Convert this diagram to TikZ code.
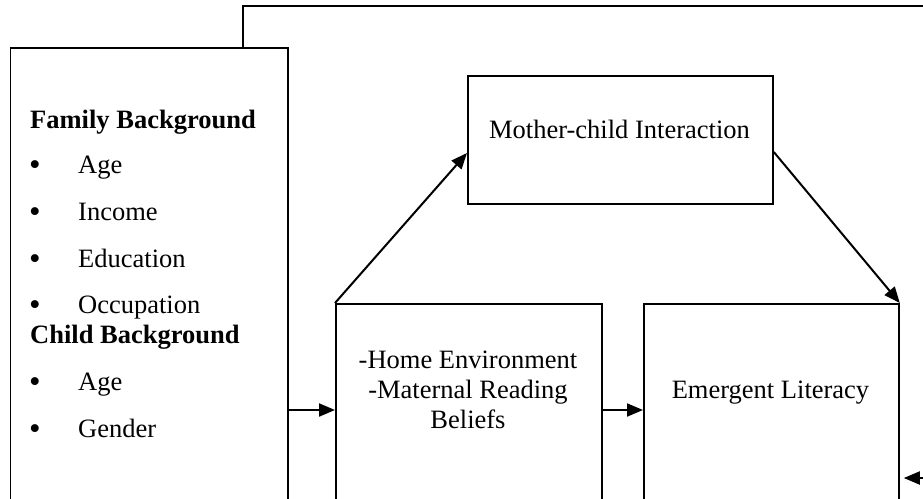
\documentclass[tikz,border=0pt]{standalone}
\usepackage{fontspec}
\setmainfont{Liberation Serif}
\usetikzlibrary{arrows.meta}
\begin{document}
\begin{tikzpicture}[x=1pt,y=-1pt,
  box/.style={draw,line width=1.8pt,fill=white,rectangle,inner sep=0pt,anchor=north west},
  arr/.style={line width=2pt,-{Triangle[length=16pt,width=13pt]}},
  txt/.style={inner sep=0pt,font=\fontsize{26.5}{30}\selectfont},
  item/.style={txt,anchor=base west},
  bul/.style={inner sep=0pt,anchor=base,font=\fontsize{33}{33}\selectfont,yshift=-2pt},
]
\useasboundingbox (0,0) rectangle (923,498);
\clip (0,0) rectangle (923,498);
% boxes
\node[box,minimum width=277.5pt,minimum height=480pt] (left) at (9.5,47) {};
\node[box,minimum width=266pt,minimum height=250pt] (mid) at (335,303) {};
\node[box,minimum width=255pt,minimum height=250pt] (emer) at (643,303) {};
\node[box,minimum width=305pt,minimum height=128pt] (mother) at (467,75) {};
% texts
\node[txt,anchor=base] (mothertxt) at (619.5,138) {Mother-child Interaction};
\node[txt,anchor=base] (mid1) at (468,368) {-Home Environment};
\node[txt,anchor=base] (mid2) at (468,398) {-Maternal Reading};
\node[txt,anchor=base] (mid3) at (468,428) {Beliefs};
\node[txt,anchor=base] (emertxt) at (770.5,398) {Emergent Literacy};
\node[item] (fam) at (30,128) {\bfseries Family Background};
\node[bul] (b1) at (35,173) {\textbullet};
\node[item] (i1) at (78,173) {Age};
\node[bul] (b2) at (35,220) {\textbullet};
\node[item] (i2) at (78,220) {Income};
\node[bul] (b3) at (35,267) {\textbullet};
\node[item] (i3) at (78,267) {Education};
\node[bul] (b4) at (35,313) {\textbullet};
\node[item] (i4) at (78,313) {Occupation};
\node[item] (chd) at (30,343) {\bfseries Child Background};
\node[bul] (b5) at (35,390) {\textbullet};
\node[item] (i5) at (78,390) {Age};
\node[bul] (b6) at (35,437) {\textbullet};
\node[item] (i6) at (78,437) {Gender};
% connectors
\coordinate (tr) at (930,6);
\draw[line width=1.8pt] (left.north -| 243,0) |- (tr);
\draw[arr] (left.east |- 0,410) -- (mid.west |- 0,410);
\draw[arr] (mid.east |- 0,410) -- (emer.west |- 0,410);
\draw[arr] (mid.north west) -- (mother.west |- 0,153);
\draw[arr] (mother.east |- 0,152) -- (emer.north east);
\coordinate (rin) at (930,478);
\draw[arr,shorten >=4pt] (rin) -- (emer.east |- 0,478);
\end{tikzpicture}
\end{document}
